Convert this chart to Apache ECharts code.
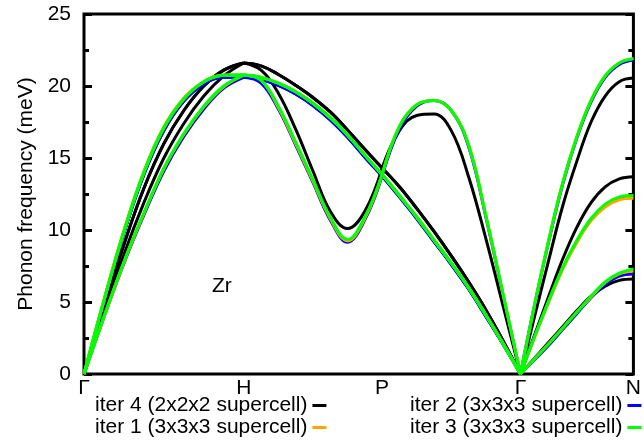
<!DOCTYPE html>
<html>
<head>
<meta charset="utf-8">
<script src="https://cdn.jsdelivr.net/npm/echarts@6/dist/echarts.min.js"></script>
<style>
  html, body { margin: 0; padding: 0; background: #fff; }
  #chart { width: 644px; height: 442px; }
</style>
</head>
<body>
<div id="chart"></div>
<script>
// high-symmetry points along the path (units of 2pi/a)
const tickK = [0, 1, 1.866, 2.732, 3.439]
const tickLabels = ['Γ', 'H', 'P', 'Γ', 'N']
// sample positions inside each segment
const frac = [0, 0.125, 0.25, 0.375, 0.5, 0.625, 0.75, 0.875, 1]

// meV, 9 points per segment: Γ-H | H-P | P-Γ | Γ-N
const iter4_b1 = [0, 4.6, 9.0, 12.9, 16.0, 18.3, 20.0, 21.1, 21.6,
  21.6, 21.1, 19.5, 17.0, 14.1, 11.3, 10.1, 11.3, 14.3,
  14.3, 16.9, 17.95, 18.05, 16.9, 13.7, 9.4, 4.7, 0,
  0, 4.0, 7.9, 11.7, 14.8, 17.5, 19.3, 20.3, 20.55]
const iter4_b2 = [0, 4.2, 8.3, 11.9, 15.0, 17.4, 19.3, 20.7, 21.6,
  21.6, 21.4, 20.8, 20.05, 19.2, 18.2, 16.95, 15.6, 14.3,
  14.3, 13.0, 11.5, 9.9, 8.2, 6.4, 4.45, 2.3, 0,
  0, 2.7, 5.4, 8.0, 10.2, 11.9, 13.0, 13.55, 13.7]
const iter4_b3 = [0, 4.6, 9.0, 12.9, 16.0, 18.3, 20.0, 21.1, 21.6,
  21.6, 21.4, 20.8, 20.05, 19.2, 18.2, 16.95, 15.6, 14.3,
  14.3, 13.0, 11.5, 9.9, 8.2, 6.4, 4.45, 2.3, 0,
  0, 1.1, 2.2, 3.3, 4.4, 5.4, 6.1, 6.5, 6.6]

const iter2_b1 = [0, 5.0, 9.8, 13.85, 16.9, 18.95, 20.15, 20.6, 20.6,
  20.6, 20.2, 18.4, 15.9, 13.3, 10.7, 9.15, 10.7, 13.75,
  13.75, 17.0, 18.6, 19.0, 18.3, 15.8, 10.9, 5.45, 0,
  0, 4.8, 9.2, 13.2, 16.4, 18.9, 20.6, 21.5, 21.8]
const iter2_b2 = [0, 3.95, 7.7, 11.05, 14.1, 16.5, 18.4, 19.85, 20.6,
  20.6, 20.45, 20.05, 19.45, 18.65, 17.65, 16.45, 15.05, 13.75,
  13.75, 12.3, 10.8, 9.2, 7.6, 5.9, 4.0, 2.05, 0,
  0, 2.6, 5.05, 7.35, 9.2, 10.7, 11.7, 12.2, 12.3]
const iter2_b3 = [0, 5.0, 9.8, 13.85, 16.9, 18.95, 20.15, 20.6, 20.6,
  20.6, 20.45, 20.05, 19.45, 18.65, 17.65, 16.45, 15.05, 13.75,
  13.75, 12.3, 10.8, 9.2, 7.6, 5.9, 4.0, 2.05, 0,
  0, 1.0, 2.0, 3.1, 4.2, 5.3, 6.2, 6.8, 6.95]

const iter1_b1 = [0, 5.15, 9.95, 14.05, 17.15, 19.15, 20.3, 20.75, 20.75,
  20.75, 20.4, 18.5, 16.0, 13.4, 10.8, 9.25, 10.8, 13.85,
  13.85, 17.2, 18.7, 19.0, 18.3, 15.9, 11.0, 5.5, 0,
  0, 4.8, 9.3, 13.3, 16.5, 19.0, 20.7, 21.6, 21.9]
const iter1_b2 = [0, 3.95, 7.75, 11.15, 14.25, 16.65, 18.55, 19.95, 20.75,
  20.75, 20.6, 20.2, 19.6, 18.8, 17.8, 16.6, 15.2, 13.85,
  13.85, 12.4, 10.9, 9.3, 7.7, 6.0, 4.1, 2.1, 0,
  0, 2.55, 5.0, 7.3, 9.15, 10.65, 11.6, 12.1, 12.2]
const iter1_b3 = [0, 5.15, 9.95, 14.05, 17.15, 19.15, 20.3, 20.75, 20.75,
  20.75, 20.6, 20.2, 19.6, 18.8, 17.8, 16.6, 15.2, 13.85,
  13.85, 12.4, 10.9, 9.3, 7.7, 6.0, 4.1, 2.1, 0,
  0, 1.05, 2.1, 3.2, 4.3, 5.35, 6.35, 6.95, 7.15]

const iter3_b1 = [0, 5.1, 9.9, 14.0, 17.1, 19.1, 20.3, 20.75, 20.76,
  20.76, 20.4, 18.6, 16.1, 13.5, 10.9, 9.35, 10.9, 13.85,
  13.85, 17.2, 18.7, 19.0, 18.3, 15.9, 11.0, 5.5, 0,
  0, 4.8, 9.3, 13.3, 16.5, 19.0, 20.7, 21.6, 21.9]
const iter3_b2 = [0, 4.0, 7.8, 11.2, 14.3, 16.7, 18.6, 20.0, 20.76,
  20.76, 20.6, 20.2, 19.6, 18.8, 17.8, 16.6, 15.2, 13.85,
  13.85, 12.4, 10.9, 9.3, 7.7, 6.0, 4.1, 2.1, 0,
  0, 2.6, 5.1, 7.4, 9.3, 10.8, 11.8, 12.3, 12.4]
const iter3_b3 = [0, 5.1, 9.9, 14.0, 17.1, 19.1, 20.3, 20.75, 20.76,
  20.76, 20.6, 20.2, 19.6, 18.8, 17.8, 16.6, 15.2, 13.85,
  13.85, 12.4, 10.9, 9.3, 7.7, 6.0, 4.1, 2.1, 0,
  0, 1.05, 2.1, 3.2, 4.3, 5.4, 6.4, 7.0, 7.3]

const runs = [
  { name: 'iter 4 (2x2x2 supercell)', color: '#000000', branches: [iter4_b1, iter4_b2, iter4_b3] },
  { name: 'iter 2 (3x3x3 supercell)', color: '#0000ff', branches: [iter2_b1, iter2_b2, iter2_b3] },
  { name: 'iter 1 (3x3x3 supercell)', color: '#ffa500', branches: [iter1_b1, iter1_b2, iter1_b3] },
  { name: 'iter 3 (3x3x3 supercell)', color: '#00ff00', branches: [iter3_b1, iter3_b2, iter3_b3] },
]

const font = 'Liberation Sans'

// one broken line per branch, gap at every high-symmetry point
function toData(vals) {
  const out = []
  for (let s = 0; s < 4; s++) {
    for (let i = 0; i < frac.length; i++) {
      const k = tickK[s] + frac[i] * (tickK[s + 1] - tickK[s])
      out.push([k, vals[s * frac.length + i]])
    }
    if (s < 3) out.push([tickK[s + 1], '-'])
  }
  return out
}

const series = []
runs.forEach(run => {
  run.branches.forEach(b => {
    series.push({
      name: run.name,
      type: 'line',
      data: toData(b),
      showSymbol: false,
      smooth: 0.4,
      connectNulls: false,
      itemStyle: { color: run.color },
      lineStyle: { color: run.color, width: 3 },
    })
  })
})

const yAxisBase = {
  type: 'value',
  min: 0,
  max: 25,
  interval: 5,
  axisLine: { show: false },
  splitLine: { show: false },
  axisTick: { show: true, inside: true, length: 8, lineStyle: { color: '#000', width: 3 } },
  minorTick: { show: true, splitNumber: 2, length: 5, lineStyle: { color: '#000', width: 3 } },
}

// gnuplot-style key: text then sample, two columns
function legendItem(name, left, top) {
  return {
    data: [name],
    left: left, top: top,
    padding: 0,
    align: 'right',
    icon: 'rect', itemWidth: 14, itemHeight: 3,
    textStyle: { color: '#000', fontFamily: font, fontSize: 21 },
  }
}

const chart = echarts.init(document.getElementById('chart'))
const option = {
  animation: false,
  backgroundColor: '#fff',
  grid: {
    left: 84, right: 5, top: 14, bottom: 68,
    show: true, borderColor: '#000', borderWidth: 3,
  },
  xAxis: {
    type: 'value',
    min: tickK[0],
    max: tickK[tickK.length - 1],
    axisLine: { show: false },
    axisTick: { show: false },
    splitLine: { show: false },
    axisLabel: {
      customValues: tickK,
      formatter: v => tickLabels[tickK.indexOf(v)],
      color: '#000',
      fontFamily: font,
      fontSize: 21,
      margin: 4,
    },
  },
  yAxis: [
    Object.assign({}, yAxisBase, {
      position: 'left',
      name: 'Phonon frequency (meV)',
      nameLocation: 'middle',
      nameRotate: 90,
      nameGap: 47,
      nameTextStyle: { color: '#000', fontFamily: font, fontSize: 21 },
      axisLabel: { color: '#000', fontFamily: font, fontSize: 21, margin: 13 },
    }),
    Object.assign({}, yAxisBase, {
      position: 'right',
      axisLabel: { show: false },
    }),
  ],
  legend: [
    legendItem(runs[0].name, 95, 395),
    legendItem(runs[2].name, 95, 417),
    legendItem(runs[1].name, 410, 395),
    legendItem(runs[3].name, 410, 417),
  ],
  graphic: [
    {
      type: 'text',
      x: 212, y: 286,
      style: { text: 'Zr', fill: '#000', font: '21px "Liberation Sans"', verticalAlign: 'middle' },
    },
  ],
  series: series,
}
chart.setOption(option)
</script>
</body>
</html>
